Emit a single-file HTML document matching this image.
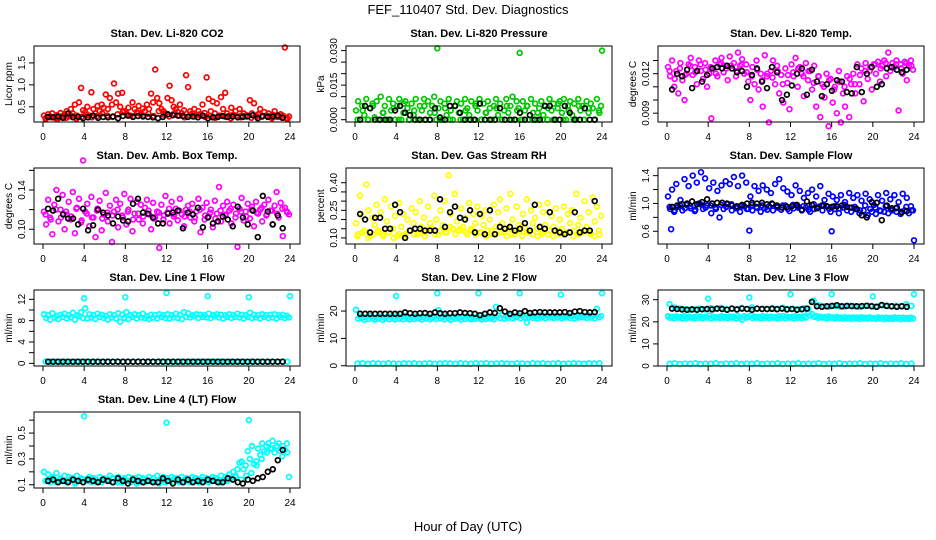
<!DOCTYPE html>
<html><head><meta charset="utf-8"><style>
html,body{margin:0;padding:0;background:#fff;width:936px;height:540px;overflow:hidden}
svg{display:block;font-family:"Liberation Sans",Arial,sans-serif}
</style></head><body>
<svg id="chart" width="936" height="540" viewBox="0 0 936 540">
<text x="468" y="14" text-anchor="middle" font-size="13">FEF_110407  Std. Dev. Diagnostics</text>
<text x="468" y="531" text-anchor="middle" font-size="13">Hour of Day (UTC)</text>
</svg>
<script>
const tickHours = [0,4,8,12,16,20,24];
const co2Main = [.30,.25,.33,.28,.35,.27,.31,.24,.36,.29,.33,.40,.28,.45,.35,.55,.30,.60,.93,.42,.38,.50,.30,.83,.45,.35,.52,.40,.55,.48,.78,.45,.70,.55,1.03,.60,.80,.50,.82,.40,.35,.48,.30,.60,.45,.38,.52,.33,.46,.40,.55,.45,.80,.60,1.35,.70,.58,.45,.40,.35,.70,.98,.65,.50,.45,.38,.55,.35,.42,1.22,.95,.40,.35,.45,.32,.40,.30,.55,.36,1.17,.68,.40,.62,.35,.58,.30,.72,.45,.82,.35,.30,.48,.32,.40,.28,.45,.30,.35,.28,.30,.65,.35,.58,.30,.33,.45,.28,.38,.30,.35,.28,.32,.40,.30,.27,.33,.30,1.85,.25,.28];
const co2Band = [.22,.26,.24,.28,.25,.30,.23,.27,.32,.26,.29,.35,.30,.27,.33,.38,.31,.28,.36,.30,.34,.29,.40,.32,.28,.35,.30,.26,.31,.28,.33,.27,.29,.25,.30,.27,.24,.29,.26,.31,.25,.28,.27,.30,.24,.27,.25,.22];
const co2Black = [.27,.26,.28,.25,.35,.26,.27,.24,.26,.30,.25,.27,.26,.28,.24,.29,.30,.27,.29,.28,.27,.26,.24,.27,.33,.31,.30,.29,.27,.28,.26,.30,.24,.26,.27,.29,.27,.28,.26,.27,.28,.31,.24,.29,.27,.28,.30,.25];
const presMain = [.004,.008,0,.006,.002,.009,0,.005,.007,.001,.008,0,.010,.003,.006,0,.009,.004,.007,0,.006,.009,0,.003,.008,.005,0,.007,.002,.009,0,.006,.004,.009,0,.008,.003,.006,.010,0,.005,.008,0,.007,.002,.009,.004,0,.006,.008,.003,.007,0,.009,.005,.002,.008,0,.006,.004,.009,0,.007,.003,.008,.005,0,.006,.009,.002,.007,0,.004,.009,.003,.006,.010,0,.008,.005,0,.008,.004,.006,0,.009,.003,.007,0,.005,.008,.002,.006,0,.009,.004,.007,0,.005,.008,.003,.009,0,.006,.008,.002,.007,0,.009,.004,.006,0,.008,.003,.007,.005,0,.009,.004,.006];
const presBand = [0,.004,0,.006,0,.003,0,.005,0,.007,0,.004,0,.006,0,.003,0,.005,0,.006,0,.004,0,.007,0,.003,0,.005,0,.006,0,.004,0,.006,0,.003,0,.005,0,.007,0,.004,0,.006,0,.005,0,.003];
const presOutHr = [8,16,24];
const presOutVal = [.031,.029,.030];
const presBlack = [0,.006,.005,0,0,0,0,.004,.006,.003,.002,0,0,0,0,.005,.001,0,.006,.006,.003,0,0,0,.007,0,0,0,.005,0,0,0,.003,0,.002,0,0,.006,.006,0,0,.006,.003,0,0,.005,0,0];
const tempMain = [.0125,.0118,.0130,.0110,.0122,.0105,.0128,.0115,.0100,.0120,.0127,.0132,.0119,.0125,.0112,.0130,.0122,.0116,.0128,.0110,.0120,.0086,.0124,.0130,.0118,.0127,.0132,.0121,.0126,.0115,.0133,.0124,.0128,.0118,.0136,.0126,.0131,.0120,.0127,.0114,.0100,.0125,.0112,.0130,.0108,.0120,.0095,.0134,.0118,.0083,.0122,.0130,.0112,.0126,.0105,.0119,.0098,.0124,.0113,.0093,.0127,.0118,.0132,.0110,.0125,.0120,.0103,.0128,.0115,.0122,.0108,.0126,.0095,.0118,.0087,.0112,.0102,.0120,.0080,.0116,.0098,.0110,.0090,.0122,.0083,.0105,.0095,.0118,.0087,.0112,.0120,.0105,.0127,.0112,.0124,.0099,.0128,.0116,.0122,.0108,.0127,.0120,.0129,.0114,.0126,.0130,.0118,.0136,.0122,.0128,.0125,.0130,.0092,.0127,.0120,.0129,.0115,.0126,.0130,.0123];
const tempBand = [.0122,.0116,.0124,.0119,.0126,.0121,.0127,.0123,.0125,.0120,.0128,.0124,.0126,.0122,.0127,.0121,.0118,.0123,.0115,.0120,.0117,.0122,.0112,.0119,.0121,.0124,.0118,.0122,.0113,.0118,.0110,.0115,.0108,.0114,.0110,.0116,.0112,.0119,.0122,.0125,.0127,.0124,.0128,.0125,.0127,.0124,.0128,.0126];
const tempBlack = [.0108,.0120,.0118,.0123,.0109,.0122,.0114,.0119,.0124,.0125,.0124,.0126,.0124,.0121,.0122,.0110,.0119,.0124,.0114,.0109,.0125,.0121,.0100,.0104,.0111,.0120,.0124,.0104,.0123,.0114,.0103,.0112,.0107,.0115,.0114,.0106,.0105,.0125,.0106,.0120,.0125,.0110,.0112,.0124,.0125,.0123,.0121,.0123];
const ambMain = [.118,.105,.130,.112,.095,.125,.140,.108,.120,.135,.100,.115,.128,.110,.138,.096,.122,.131,.107,.170,.118,.126,.103,.133,.112,.092,.121,.129,.099,.115,.137,.108,.124,.087,.118,.130,.102,.126,.114,.136,.105,.120,.131,.098,.116,.128,.110,.125,.106,.122,.130,.115,.100,.127,.112,.118,.081,.125,.110,.134,.117,.106,.128,.113,.121,.109,.131,.115,.103,.120,.124,.112,.126,.108,.118,.131,.097,.122,.110,.127,.113,.120,.102,.129,.116,.143,.108,.124,.114,.128,.119,.106,.125,.112,.082,.121,.132,.109,.118,.126,.111,.123,.103,.128,.116,.120,.108,.125,.114,.130,.119,.105,.124,.138,.112,.127,.093,.122,.118,.115];
const ambBand = [.115,.110,.120,.112,.118,.113,.121,.109,.116,.112,.119,.111,.117,.114,.120,.112,.118,.110,.116,.113,.119,.111,.117,.114,.121,.115,.119,.113,.118,.112,.120,.114,.117,.111,.119,.115,.121,.116,.118,.113,.120,.117,.122,.115,.119,.116,.121,.117];
const ambBlack = [.121,.119,.131,.115,.111,.111,.105,.121,.099,.104,.120,.117,.114,.106,.113,.109,.108,.126,.131,.117,.116,.112,.106,.106,.116,.117,.119,.101,.117,.115,.122,.102,.112,.106,.108,.113,.110,.103,.123,.112,.105,.119,.092,.134,.118,.105,.114,.101];
const rhMain = [.18,.12,.33,.22,.14,.39,.25,.11,.21,.17,.28,.13,.24,.12,.31,.19,.13,.27,.15,.22,.11,.29,.16,.23,.12,.20,.14,.26,.18,.24,.12,.30,.16,.21,.13,.27,.18,.15,.33,.20,.12,.25,.17,.30,.13,.44,.23,.15,.34,.19,.14,.26,.16,.21,.12,.29,.15,.23,.18,.27,.13,.22,.17,.25,.14,.20,.12,.28,.16,.24,.31,.18,.13,.26,.15,.34,.20,.12,.27,.17,.14,.23,.16,.31,.13,.25,.18,.21,.15,.28,.12,.24,.17,.29,.14,.22,.16,.26,.12,.20,.15,.27,.13,.23,.18,.25,.14,.34,.17,.21,.13,.30,.16,.24,.12,.32,.19,.27,.14,.22];
const rhBand = [.11,.13,.10,.12,.14,.11,.13,.10,.12,.11,.14,.12,.13,.11,.15,.12,.14,.13,.16,.12,.15,.13,.14,.12,.13,.11,.14,.12,.13,.11,.12,.14,.11,.13,.12,.11,.13,.12,.11,.14,.12,.13,.11,.12,.14,.13,.11,.12];
const rhBlack = [.23,.20,.13,.21,.21,.15,.15,.28,.24,.10,.14,.15,.15,.14,.14,.14,.31,.16,.24,.27,.21,.20,.25,.13,.23,.12,.25,.12,.16,.15,.16,.14,.15,.18,.14,.28,.16,.15,.24,.14,.13,.12,.13,.24,.13,.14,.14,.30];
const flowMain = [1.10,.92,1.20,.88,1.28,.95,1.05,.90,1.35,.98,1.25,.93,1.40,.89,1.30,1.00,1.45,.92,1.36,.97,1.22,.86,1.30,.94,1.18,.80,1.26,.92,1.32,.99,1.28,.90,1.38,.95,1.25,.88,1.40,.96,1.30,.92,1.10,.90,1.25,.95,1.18,.88,1.26,.93,1.20,.96,1.15,.90,1.28,.94,1.35,.91,1.22,.97,1.17,.89,1.12,.93,1.26,.96,1.18,.90,1.08,.94,1.15,.88,1.20,.92,1.10,.95,1.25,.90,1.05,.96,1.14,.88,1.10,.92,1.05,.86,1.12,.94,1.02,.90,1.15,.88,1.08,.92,1.12,.86,1.04,.90,1.14,.83,1.06,.88,.98,.85,1.12,.90,1.04,.88,1.15,.86,1.06,.90,1.12,.88,1.02,.85,1.14,.90,1.08,.86,.96,.90];
const flowBand = [.95,.90,.98,.93,.96,.91,.99,.94,.97,.92,.98,.95,.99,.93,.96,.92,.98,.94,.97,.91,.99,.95,.97,.92,.98,.94,.96,.91,.99,.95,.97,.92,.96,.93,.98,.94,.95,.90,.97,.92,.94,.89,.96,.91,.93,.88,.95,.90];
const flowOutHr = [.4,8,16,24];
const flowOutVal = [.63,.61,.60,.47];
const flowBlack = [.95,.97,.99,1.00,1.03,.99,1.02,1.06,1.00,1.01,1.01,1.00,.97,.96,.98,1.00,1.01,1.00,1.01,.99,1.00,.97,.94,.95,.96,.98,.91,1.03,.98,.93,.97,.96,.95,.96,.97,.95,.94,.92,.83,.80,1.02,1.01,.76,.97,.93,.94,.87,.89];
const l1Main = [9.2,8.5,9.0,8.2,9.4,8.6,8.9,8.3,9.1,8.7,9.3,8.4,9.0,8.6,9.5,8.2,9.0,8.8,9.6,8.5,10.3,8.4,9.2,8.6,9.0,8.3,9.3,8.7,9.1,8.5,8.9,8.2,9.2,8.6,9.0,8.4,9.4,7.8,9.1,8.5,9.6,8.3,9.0,8.7,9.2,8.4,9.0,8.6,9.3,8.5,8.8,8.3,9.1,8.6,9.0,8.4,9.2,8.7,9.0,8.5,9.2,8.4,9.0,8.6,9.3,8.5,9.1,8.3,9.6,8.7,9.4,8.6,9.0,8.8,9.2,8.5,9.1,8.7,9.0,8.6,9.3,8.5,9.0,8.8,9.2,8.6,9.1,8.4,9.0,8.7,9.2,8.5,9.0,8.7,9.3,8.6,9.1,8.4,9.0,8.7,9.5,8.5,9.1,8.6,9.0,8.4,9.2,8.7,9.0,8.5,9.1,8.6,9.2,8.4,9.0,8.7,9.1,8.5,8.9,8.6];
const l1Band = [.35,.3,.35,.3,.35,.3,.35,.3,.35,.3,.35,.3,.35,.3,.35,.3,.35,.3,.35,.3,.35,.3,.35,.3,.35,.3,.35,.3,.35,.3,.35,.3,.35,.3,.35,.3,.35,.3,.35,.3,.35,.3,.35,.3,.35,.3,.35,.3];
const l1OutHr = [4,8,12,16,20,24];
const l1OutVal = [12.2,12.4,13.2,12.6,12.4,12.6];
const l1Black = [.3,.3,.3,.3,.3,.3,.3,.3,.3,.3,.3,.3,.3,.3,.3,.3,.3,.3,.3,.3,.3,.3,.3,.3,.3,.3,.3,.3,.3,.3,.3,.3,.3,.3,.3,.3,.3,.3,.3,.3,.3,.3,.3,.3,.3,.3,.3,.3];
const l2Main = [20.5,17.2,18.0,17.5,16.8,17.8,17.1,18.2,17.4,16.9,17.6,17.2,18.0,16.8,17.5,17.9,17.0,18.1,17.3,16.9,18.5,17.2,17.8,17.0,18.2,17.4,16.9,17.7,17.1,18.0,17.3,17.6,16.9,17.8,17.2,18.1,17.0,17.5,17.9,17.1,20.3,17.3,17.8,17.0,18.2,17.4,16.8,17.7,17.2,18.0,17.5,16.9,17.8,17.1,18.1,17.3,17.0,17.6,17.2,17.9,17.4,16.9,17.7,17.1,18.0,17.3,17.6,17.0,21.5,18.3,17.5,18.6,17.2,18.0,17.6,18.4,17.3,18.1,17.7,18.5,17.4,18.2,17.6,15.8,17.8,18.3,17.5,18.0,17.3,18.4,17.6,18.1,17.4,18.5,17.7,18.0,17.5,18.3,17.6,18.2,17.4,18.0,17.7,18.4,17.5,18.1,17.3,18.3,17.6,18.0,17.8,18.2,17.5,18.4,17.6,18.1,17.4,20.8,17.7,18.2];
const l2Band = [.8,.9,.7,.9,.8,.7,.9,.8,.7,.9,.8,.9,.7,.8,.9,.7,.8,.9,.8,.7,.9,.8,.7,.9,.8,.9,.7,.8,.9,.8,.7,.9,.8,.7,.9,.8,.9,.7,.8,.9,.7,.8,.9,.8,.7,.9,.8,.9];
const l2OutHr = [4,8,12,16,20,24];
const l2OutVal = [25.5,26.5,26.5,26.5,26,26.5];
const l2Black = [19,19,19,19,19,19,19,19,19,19.5,19.2,19,19.2,19.3,19,19.5,19.2,19,19.2,19.2,19.5,19.3,19.2,19,18.5,19,19.5,19.3,21,19.8,19,19.5,19.2,20,19.3,19.5,19.6,19.5,19.5,19.5,19.5,19.6,19.3,19.8,20,19.6,19.5,19.6];
const l3Main = [22.5,21.8,22.3,21.6,22.4,21.9,22.2,21.5,22.6,21.7,22.3,21.9,22.1,21.6,22.5,21.8,22.4,21.7,22.2,21.9,22.8,21.6,22.3,21.9,22.1,21.7,22.5,21.8,22.2,21.6,22.4,21.9,22.3,21.5,22.6,21.8,21.0,22.5,21.9,22.2,22.8,21.7,22.4,21.9,22.2,21.6,22.5,21.8,22.3,21.7,22.4,21.9,22.1,21.6,22.5,21.8,22.6,21.7,22.3,21.9,22.2,21.6,22.5,21.8,22.3,21.7,22.4,21.9,24.5,22.8,23.5,22.2,22.6,21.8,22.3,21.9,22.1,21.6,22.4,21.8,22.0,21.5,22.2,21.7,21.9,21.4,22.1,21.6,21.8,21.3,22.0,21.5,21.9,21.3,22.1,21.6,21.8,21.4,22.0,21.5,21.7,21.3,22.0,21.5,21.8,21.2,21.9,21.4,21.7,21.3,22.0,21.5,21.8,21.2,21.9,21.4,21.7,21.3,21.9,21.5];
const l3Upper = [28,26.5,26,25.8,25.5,25.7,26,25.6,26.2,25.8,26.3,25.7,26,25.5,26.4,25.8,26.6,25.9,26,25.7,26.2,25.9,26.4,25.8,26,25.7,26.1,25.9,29.5,27.5,27,26.8,27.2,27,26.9,27.3,27,26.8,27.1,27.2,26.8,27.5,27.2,27,27.3,27.1,28,27.2];
const l3Band = [1,1.2,.9,1.1,1,1.2,.9,1.1,1,1.2,.9,1.1,1,1.2,.9,1.1,1,1.2,.9,1.1,1,1.2,.9,1.1,1,1.2,.9,1.1,1,1.2,.9,1.1,1,1.2,.9,1.1,1,1.2,.9,1.1,1,1.2,.9,1.1,1,1.2,.9,1.1];
const l3OutHr = [4,8,12,16,20,24];
const l3OutVal = [30.5,31,32.5,32.5,31.5,32.5];
const l3Black = [26,25.8,25.6,25.5,25.6,25.5,25.7,25.8,25.6,26,25.8,25.5,26,25.6,26,25.8,25.5,26,25.8,25.8,25.9,25.7,26,25.6,25.8,25.5,25.7,26,29,27,26.8,27,27.2,27.5,27,27.2,27.1,27,27.1,27.3,27,26.8,27.6,27.2,27,26.8,27,26.8];
const l4Main = [.20,.13,.18,.12,.16,.14,.19,.12,.15,.13,.17,.12,.16,.14,.15,.11,.17,.13,.15,.12,.14,.13,.16,.12,.15,.14,.13,.16,.12,.15,.14,.13,.17,.12,.15,.13,.16,.14,.12,.15,.13,.16,.12,.14,.15,.11,.16,.13,.15,.12,.14,.16,.13,.15,.12,.17,.11,.14,.16,.12,.15,.13,.16,.12,.14,.15,.13,.16,.12,.15,.14,.12,.16,.13,.15,.12,.14,.16,.13,.15,.12,.14,.16,.13,.15,.12,.17,.14,.16,.13,.18,.15,.20,.17,.22,.27,.28,.22,.25,.36,.30,.40,.26,.28,.38,.33,.42,.36,.40,.42,.38,.44,.35,.40,.42,.36,.40,.37,.42,.16];
const l4Band = [.13,.15,.12,.14,.13,.15,.12,.14,.13,.15,.12,.14,.13,.15,.12,.14,.13,.15,.12,.14,.13,.15,.12,.14,.13,.15,.12,.14,.13,.15,.12,.14,.13,.15,.12,.14,.15,.16,.14,.17,.19,.25,.30,.35,.38,.40,.32,.35];
const l4OutHr = [4,12,20];
const l4OutVal = [.63,.58,.60];
const l4Black = [.13,.14,.12,.13,.12,.14,.13,.12,.14,.13,.12,.14,.13,.12,.15,.13,.11,.14,.13,.12,.13,.12,.12,.15,.13,.11,.14,.12,.14,.12,.13,.12,.14,.13,.12,.12,.15,.14,.12,.11,.14,.13,.15,.16,.20,.22,.29,.37];

const svg = document.getElementById('chart');
const NS = 'http://www.w3.org/2000/svg';
function mk(tag, attrs, parent){const e=document.createElementNS(NS,tag);for(const k in attrs)e.setAttribute(k,attrs[k]);(parent||svg).appendChild(e);return e;}

const colLeft=[34,346,658], rowTop=[46,168,290,412];
const panels=[
 {c:0,r:0,title:'Stan. Dev. Li-820 CO2',yl:'Licor ppm',ymin:.154,ymax:1.885,ticks:[.5,1,1.5],labels:['0.5','1.0','1.5'],col:'#ff0000',main:co2Main,band:co2Band,black:co2Black,name:'co2'},
 {c:1,r:0,title:'Stan. Dev. Li-820 Pressure',yl:'kPa',ymin:-.001,ymax:.032,ticks:[0,.005,.01,.015,.02,.025,.03],labels:['0.000','','','0.015','','','0.030'],col:'#00c800',main:presMain,band:presBand,outH:presOutHr,outV:presOutVal,black:presBlack,name:'pressure'},
 {c:2,r:0,title:'Stan. Dev. Li-820 Temp.',yl:'degrees C',ymin:.00833,ymax:.0141,ticks:[.009,.010,.011,.012,.013],labels:['0.009','','','0.012',''],col:'#ff00ff',main:tempMain,band:tempBand,black:tempBlack,name:'li820-temp'},
 {c:0,r:1,title:'Stan. Dev. Amb. Box Temp.',yl:'degrees C',ymin:.085,ymax:.1624,ticks:[.10,.12,.14,.16],labels:['0.10','','0.14',''],col:'#ff00ff',main:ambMain,band:ambBand,black:ambBlack,name:'amb-box-temp'},
 {c:1,r:1,title:'Stan. Dev. Gas Stream RH',yl:'percent',ymin:.067,ymax:.48,ticks:[.10,.15,.20,.25,.30,.35,.40],labels:['0.10','','','0.25','','','0.40'],col:'#ffff00',main:rhMain,band:rhBand,black:rhBlack,name:'gas-stream-rh'},
 {c:2,r:1,title:'Stan. Dev. Sample Flow',yl:'ml/min',ymin:.417,ymax:1.51,ticks:[.6,.8,1.0,1.2,1.4],labels:['0.6','','1.0','','1.4'],col:'#0000ff',main:flowMain,band:flowBand,outH:flowOutHr,outV:flowOutVal,black:flowBlack,name:'sample-flow'},
 {c:0,r:2,title:'Stan. Dev. Line 1 Flow',yl:'ml/min',ymin:-.5,ymax:13.75,ticks:[0,2,4,6,8,10,12],labels:['0','','4','','8','','12'],col:'#00ffff',main:l1Main,band:l1Band,outH:l1OutHr,outV:l1OutVal,black:l1Black,name:'line1-flow'},
 {c:1,r:2,title:'Stan. Dev. Line 2 Flow',yl:'ml/min',ymin:-.1,ymax:27.7,ticks:[0,10,20],labels:['0','10','20'],col:'#00ffff',main:l2Main,band:l2Band,outH:l2OutHr,outV:l2OutVal,black:l2Black,name:'line2-flow'},
 {c:2,r:2,title:'Stan. Dev. Line 3 Flow',yl:'ml/min',ymin:0,ymax:34.4,ticks:[0,10,20,30],labels:['0','10','20','30'],col:'#00ffff',main:l3Main,band:l3Band,upper:l3Upper,outH:l3OutHr,outV:l3OutVal,black:l3Black,name:'line3-flow'},
 {c:0,r:3,title:'Stan. Dev. Line 4 (LT) Flow',yl:'ml/min',ymin:.075,ymax:.663,ticks:[.1,.2,.3,.4,.5,.6],labels:['0.1','','0.3','','0.5',''],col:'#00ffff',main:l4Main,band:l4Band,outH:l4OutHr,outV:l4OutVal,black:l4Black,name:'line4-flow'}
];

panels.forEach(p=>{
  const L=colLeft[p.c], T=rowTop[p.r], W=266, H=76, B=T+H;
  const xs=t=>L+9+t*247/24;
  const ys=v=>B-(v-p.ymin)/(p.ymax-p.ymin)*H;
  const g=mk('g',{});
  
  
  const tt=mk('text',{x:L+W/2,y:T-9,'text-anchor':'middle','font-size':'11','font-weight':'bold'},g);
  tt.textContent=p.title;
  
  
  const yt=mk('text',{x:0,y:0,'text-anchor':'middle','font-size':'10',transform:`translate(${L-22},${T+H/2}) rotate(-90)`},g);
  yt.textContent=p.yl;
  
  
  const cg=mk('g',{fill:'none','stroke-width':'1.7'},g);
  function dots(vals,t0,dt,color,nm){
    const gg=mk('g',{stroke:color},cg);
    
    
    vals.forEach((v,i)=>{mk('circle',{cx:xs(t0+i*dt).toFixed(1),cy:ys(v).toFixed(1),r:2.4},gg);});
  }
  dots(p.main,0.1,0.2,p.col,p.name+'-series');
  dots(p.band,0.25,0.5,p.col,p.name+'-band');
  if(p.upper) dots(p.upper,0.25,0.5,p.col,p.name+'-upper-band');
  if(p.outH){const og=mk('g',{stroke:p.col},cg);
    
    
    p.outH.forEach((h,i)=>mk('circle',{cx:xs(h),cy:ys(p.outV[i]),r:2.4},og));}
  dots(p.black,0.5,0.485,'#000',p.name+'-hourly-series');
  const box=mk('rect',{x:L,y:T,width:W,height:H,fill:'none',stroke:'#000','stroke-width':'1'},g);
  
  
  tickHours.forEach(h=>{mk('line',{x1:xs(h),x2:xs(h),y1:B,y2:B+5,stroke:'#000'},g);
    const tx=mk('text',{x:xs(h),y:B+18,'text-anchor':'middle','font-size':'10'},g);tx.textContent=h;});
  p.ticks.forEach((v,i)=>{const y=ys(v);mk('line',{x1:L-5,x2:L,y1:y,y2:y,stroke:'#000'},g);
    if(p.labels[i]){const t=mk('text',{x:0,y:0,'text-anchor':'middle','font-size':'10',transform:`translate(${L-9},${y}) rotate(-90)`},g);t.textContent=p.labels[i];}});
});
</script>
</body></html>
